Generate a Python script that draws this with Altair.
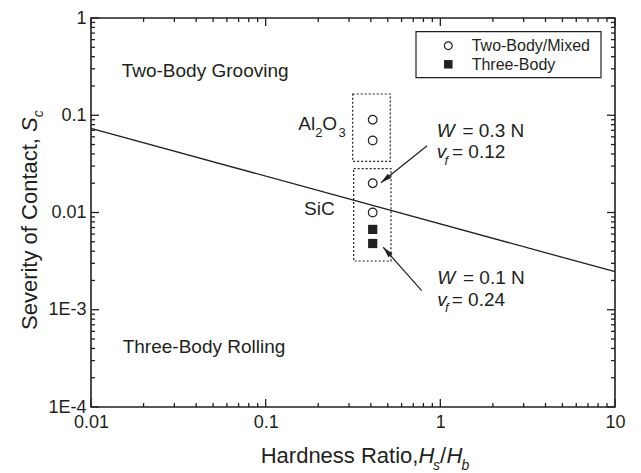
import math
import altair as alt
import pandas as pd

# ---- values ---------------------------------------------------------------
hardness_ratio = [0.41, 0.41, 0.41, 0.41]           # Two-Body / Mixed (open circles)
severity_two_body = [0.09, 0.055, 0.02, 0.01]
hardness_three = [0.41, 0.41]                        # Three-Body (filled squares)
severity_three_body = [0.0067, 0.0048]

# transition line between grooving and rolling
boundary_x = [0.01, 10]
boundary_y = [0.0734, 0.00246]

# dotted groupings: Al2O3 and SiC
box_name = ["Al2O3", "SiC"]
box_x1 = [0.315, 0.319]
box_x2 = [0.517, 0.522]
box_y1 = [0.0336, 0.00317]
box_y2 = [0.1654, 0.0282]

# arrows (start -> tip)
arrow_x1 = [0.84, 0.782]
arrow_y1 = [0.0486, 0.00157]
arrow_x2 = [0.457, 0.471]
arrow_y2 = [0.0202, 0.00439]

x_ticks = [0.01, 0.1, 1, 10]
x_tick_labels = ["0.01", "0.1", "1", "10"]
y_ticks = [1e-4, 1e-3, 1e-2, 1e-1, 1]
y_tick_labels = ["1E-4", "1E-3", "0.01", "0.1", "1"]
x_minor = [k * 10.0 ** d for d in (-2, -1, 0) for k in range(2, 10)]
y_minor = [k * 10.0 ** d for d in (-4, -3, -2, -1) for k in range(2, 10)]

# ---- styling ----------------------------------------------------------------
W, H = 524, 389
FONT = "Liberation Sans"
INK = "#231f20"
NBSP = "\u00a0"
X_MIN, X_MAX = 0.01, 10
Y_MIN, Y_MAX = 1e-4, 1
PX_PER_DECADE_X = W / math.log10(X_MAX / X_MIN)
PX_PER_DECADE_Y = H / math.log10(Y_MAX / Y_MIN)
MAJOR, MINOR = 8, 4

xs = alt.Scale(type="log", domain=[X_MIN, X_MAX])
ys = alt.Scale(type="log", domain=[Y_MIN, Y_MAX])

x_axis = alt.Axis(
    values=x_ticks,
    labelExpr="[" + ",".join(f"'{t}'" for t in x_tick_labels) + "][round(log(datum.value)/LN10)+2]",
    title=None, domain=False, ticks=False, grid=False,
    labelFont=FONT, labelFontSize=18, labelColor=INK, labelPadding=6,
    labelFlush=False, labelOverlap=False,
)
y_axis = alt.Axis(
    values=y_ticks,
    labelExpr="[" + ",".join(f"'{t}'" for t in y_tick_labels) + "][round(log(datum.value)/LN10)+4]",
    title=None, domain=False, ticks=False, grid=False,
    labelFont=FONT, labelFontSize=18, labelColor=INK, labelPadding=5,
    labelOverlap=False,
)


def X(field):
    return alt.X(field, type="quantitative", scale=xs, axis=x_axis)


def Y(field):
    return alt.Y(field, type="quantitative", scale=ys, axis=y_axis)


one = pd.DataFrame({"k": [0]})


def label(text, x, y, size=19, style="normal", angle=0):
    return alt.Chart(one).mark_text(
        text=text, font=FONT, fontSize=size, fontStyle=style, color=INK,
        align="left", baseline="alphabetic", angle=angle,
    ).encode(x=alt.value(x), y=alt.value(y))


# ---- data layers ------------------------------------------------------------
line_df = pd.DataFrame({"hr": boundary_x, "sc": boundary_y})
boundary = alt.Chart(line_df).mark_line(color=INK, strokeWidth=1.3).encode(
    x=X("hr"), y=Y("sc")
)

box_df = pd.DataFrame({"name": box_name, "x1": box_x1, "x2": box_x2,
                       "y1": box_y1, "y2": box_y2})
boxes = alt.Chart(box_df).mark_rect(
    fill=None, stroke=INK, strokeWidth=1.2, strokeDash=[2, 2]
).encode(x=X("x1"), x2="x2", y=Y("y1"), y2="y2")

two_df = pd.DataFrame({"hr": hardness_ratio, "sc": severity_two_body})
circles = alt.Chart(two_df).mark_point(
    shape="circle", size=75, fill="white", filled=False, stroke=INK, strokeWidth=1.2, opacity=1
).encode(x=X("hr"), y=Y("sc"))

three_df = pd.DataFrame({"hr": hardness_three, "sc": severity_three_body})
squares = alt.Chart(three_df).mark_point(
    shape="square", size=85, filled=True, color=INK, opacity=1
).encode(x=X("hr"), y=Y("sc"))


# arrows: shaft + head, the head rotated along the shaft in screen space
def px(v):
    return math.log10(v / X_MIN) * PX_PER_DECADE_X


def py(v):
    return H - math.log10(v / Y_MIN) * PX_PER_DECADE_Y


angles = []
for a, b, c, d in zip(arrow_x1, arrow_y1, arrow_x2, arrow_y2):
    dx = px(c) - px(a)
    dy = py(d) - py(b)
    angles.append(math.degrees(math.atan2(dx, -dy)) % 360)

arrow_df = pd.DataFrame({"x1": arrow_x1, "y1": arrow_y1, "x2": arrow_x2,
                         "y2": arrow_y2, "ang": angles})
shafts = alt.Chart(arrow_df).mark_rule(color=INK, strokeWidth=1.2).encode(
    x=X("x1"), y=Y("y1"), x2="x2", y2="y2"
)
heads = alt.Chart(arrow_df).mark_point(
    shape="M0,0L0.55,2.2L-0.55,2.2Z", size=100, filled=True, color=INK, opacity=1
).encode(x=X("x2"), y=Y("y2"), angle=alt.Angle("ang", type="quantitative", scale=None))

# ---- inward ticks on all four frame sides -------------------------------------
# each tick is a short segment starting a hair inside the frame edge and running
# inward by its pixel length, converted to a log-space factor
EPS = 1.0005
tx1, tx2, ty1, ty2 = [], [], [], []


def seg(a, b, c, d):
    tx1.append(a)
    tx2.append(b)
    ty1.append(c)
    ty2.append(d)


for vals, length in ((x_ticks, MAJOR), (x_minor, MINOR)):
    f = 10 ** (length / PX_PER_DECADE_Y)
    for v in vals:
        vv = min(max(v, X_MIN * EPS), X_MAX / EPS)
        seg(vv, vv, Y_MIN * EPS, Y_MIN * f)
        seg(vv, vv, Y_MAX / EPS, Y_MAX / f)
for vals, length in ((y_ticks, MAJOR), (y_minor, MINOR)):
    f = 10 ** (length / PX_PER_DECADE_X)
    for v in vals:
        vv = min(max(v, Y_MIN * EPS), Y_MAX / EPS)
        seg(X_MIN * EPS, X_MIN * f, vv, vv)
        seg(X_MAX / EPS, X_MAX / f, vv, vv)

tick_df = pd.DataFrame({"tx1": tx1, "tx2": tx2, "ty1": ty1, "ty2": ty2})
frame_ticks = alt.Chart(tick_df).mark_rule(color=INK, strokeWidth=1.3).encode(
    x=alt.X("tx1", type="quantitative", scale=xs), x2="tx2",
    y=alt.Y("ty1", type="quantitative", scale=ys), y2="ty2"
)

# plot frame drawn as a mark on top of everything inside the plot
frame = alt.Chart(one).mark_rect(fill=None, stroke=INK, strokeWidth=1.6).encode(
    x=alt.value(0), x2=alt.value(W), y=alt.value(0), y2=alt.value(H))

# ---- legend -------------------------------------------------------------------
legend_box = alt.Chart(one).mark_rect(fill="white", stroke=INK, strokeWidth=1.2).encode(
    x=alt.value(325), x2=alt.value(510), y=alt.value(13.7), y2=alt.value(59.7))
legend_circle = alt.Chart(one).mark_point(
    shape="circle", size=60, filled=False, stroke=INK, strokeWidth=1.2, opacity=1
).encode(x=alt.value(357.3), y=alt.value(27.7))
legend_square = alt.Chart(one).mark_point(
    shape="square", size=72, filled=True, color=INK, opacity=1
).encode(x=alt.value(357.3), y=alt.value(46.3))
legend_layers = [
    legend_box, legend_circle, legend_square,
    label("Two-Body/Mixed", 380.7, 32.9, size=16),
    label("Three-Body", 380.7, 52.3, size=16),
]

# ---- annotations ----------------------------------------------------------------
annotations = [
    label("Two-Body Grooving", 30.7, 59.3),
    label("Three-Body Rolling", 31.7, 335.3),
    label("Al", 207.3, 112),
    label("2", 224.2, 118.5, size=13),
    label("O", 231.2, 112),
    label("3", 247.5, 118.5, size=13),
    label("SiC", 213, 197),
    label("W", 345.7, 118.7, style="italic"),
    label("= 0.3 N", 371.5, 118.7),
    label("v", 345.7, 140.3, style="italic"),
    label("f", 353.5, 146.5, size=13, style="italic"),
    label("= 0.12", 361, 140.3),
    label("W", 346.3, 266.3, style="italic"),
    label("= 0.1 N", 372, 266.3),
    label("v", 346.3, 288, style="italic"),
    label("f", 354, 294.2, size=13, style="italic"),
    label("= 0.24", 360.7, 288),
]

# axis titles with italic symbols and subscripts
titles = [
    label("Hardness Ratio," + NBSP, 169.7, 445.3, size=22),
    label("H", 327.4, 445.3, size=22, style="italic"),
    label("s", 342, 451.5, size=14, style="italic"),
    label("/", 349, 445.3, size=22),
    label("H", 355.5, 445.3, size=22, style="italic"),
    label("b", 370.5, 451.5, size=14, style="italic"),
    label("Severity of Contact," + NBSP, -53.7, 312, size=22, angle=270),
    label("S", -53.7, 114, size=22, style="italic", angle=270),
    label("c", -47.7, 99.3, size=14, style="italic", angle=270),
]

chart = alt.layer(
    boundary, boxes, shafts, heads, circles, squares,
    *legend_layers, *annotations, *titles, frame_ticks, frame,
).properties(
    width=W, height=H,
    padding={"left": 91, "top": 18, "right": 26, "bottom": 66},
    autosize=alt.AutoSizeParams(type="none"),
    background="white",
).configure_view(stroke=None)

chart.save("out.html", embed_options={"renderer": "svg", "actions": False})
